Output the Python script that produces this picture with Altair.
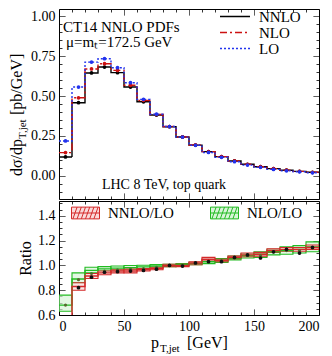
import altair as alt
import pandas as pd

# ---------------- data ----------------
bin_lo = [0, 10, 20, 30, 40, 50, 60, 70, 80, 90, 100, 110, 120, 130, 140, 150, 160, 170, 180, 190]
bin_w = 10

nnlo = [0.119, 0.458, 0.644, 0.681, 0.646, 0.556, 0.464, 0.381, 0.308, 0.244,
        0.193, 0.152, 0.121, 0.094, 0.073, 0.058, 0.046, 0.036, 0.029, 0.023]
nlo = [0.146, 0.489, 0.669, 0.702, 0.660, 0.567, 0.472, 0.384, 0.309, 0.244,
       0.194, 0.152, 0.121, 0.094, 0.073, 0.058, 0.046, 0.036, 0.029, 0.023]
lo = [0.219, 0.556, 0.712, 0.733, 0.677, 0.583, 0.479, 0.386, 0.309, 0.243,
      0.192, 0.147, 0.117, 0.089, 0.068, 0.054, 0.041, 0.032, 0.026, 0.020]
err = [0.004, 0.006, 0.007, 0.007, 0.006, 0.006, 0.005, 0.005, 0.004, 0.004,
       0.004, 0.003, 0.003, 0.003, 0.003, 0.002, 0.002, 0.002, 0.002, 0.002]

r_nnlo = [0.54, 0.83, 0.915, 0.94, 0.955, 0.955, 0.965, 0.975, 1.0, 1.0,
          1.02, 1.05, 1.04, 1.065, 1.085, 1.09, 1.12, 1.13, 1.13, 1.145]
r_nnlo_lo = [0.52, 0.80, 0.895, 0.925, 0.94, 0.94, 0.955, 0.965, 0.99, 0.99,
             1.005, 1.035, 1.03, 1.055, 1.07, 1.075, 1.105, 1.115, 1.115, 1.13]
r_nnlo_hi = [0.56, 0.86, 0.935, 0.955, 0.965, 0.97, 0.975, 0.985, 1.01, 1.01,
             1.03, 1.065, 1.05, 1.075, 1.10, 1.105, 1.135, 1.145, 1.145, 1.165]
r_nlo = [0.68, 0.89, 0.96, 0.972, 0.978, 0.982, 0.988, 0.995, 1.0, 1.005,
         1.015, 1.03, 1.04, 1.06, 1.08, 1.09, 1.11, 1.12, 1.13, 1.15]
r_nlo_lo = [0.63, 0.86, 0.94, 0.955, 0.962, 0.968, 0.975, 0.985, 0.99, 0.995,
            1.005, 1.015, 1.025, 1.045, 1.06, 1.065, 1.085, 1.09, 1.10, 1.11]
r_nlo_hi = [0.76, 0.94, 0.985, 0.99, 0.995, 1.0, 1.002, 1.008, 1.01, 1.015,
            1.025, 1.045, 1.055, 1.075, 1.095, 1.11, 1.13, 1.15, 1.16, 1.19]
r_pts = [0.54, 0.82, 0.905, 0.945, 0.95, 0.955, 0.96, 0.97, 1.0, 0.995,
         1.02, 1.03, 1.03, 1.065, 1.085, 1.06, 1.11, 1.13, 1.10, 1.145]
r_pts_err = [0.01, 0.01, 0.01, 0.01, 0.01, 0.01, 0.008, 0.008, 0.008, 0.008,
             0.008, 0.008, 0.008, 0.008, 0.008, 0.01, 0.01, 0.012, 0.012, 0.012]
r_nlo_pts = [0.68, 0.885, 0.935, 0.955, 0.965, 0.97, 0.975, 0.985, 1.0, 1.0,
             1.02, 1.03, 1.04, 1.06, 1.08, 1.08, 1.11, 1.12, 1.12, 1.14]

series = ["NNLO", "NLO", "LO"]
series_vals = [nnlo, nlo, lo]
colors = ["#000000", "#cc1111", "#2233ee"]
dashes = [[1, 0], [7, 3, 2, 3], [2, 2]]

ratio_series = ["NNLO/LO", "NLO/LO"]
ratio_stroke = ["#d42a2a", "#22bb22"]
ratio_fill = ["#fadada", "#d8f5d8"]

x_ticks = [0, 10, 20, 30, 40, 50, 60, 70, 80, 90, 100, 110, 120, 130, 140, 150, 160, 170, 180, 190, 200]
y_top_ticks = [-0.1, -0.05, 0.0, 0.05, 0.1, 0.15, 0.2, 0.25, 0.3, 0.35, 0.4, 0.45, 0.5,
               0.55, 0.6, 0.65, 0.7, 0.75, 0.8, 0.85, 0.9, 0.95, 1.0]
y_bot_ticks = [0.6, 0.65, 0.7, 0.75, 0.8, 0.85, 0.9, 0.95, 1.0, 1.05, 1.1, 1.15, 1.2,
               1.25, 1.3, 1.35, 1.4, 1.45, 1.5]

FONT = "Liberation Serif"

# ---------------- frames ----------------
step_rows, pt_rows = [], []
for name, vals in zip(series, series_vals):
    for a, v, e in zip(bin_lo, vals, err):
        step_rows.append({"series": name, "x": a, "y": v})
        pt_rows.append({"series": name, "xc": a + bin_w / 2, "y": v, "ylo": v - e, "yhi": v + e})
    step_rows.append({"series": name, "x": bin_lo[-1] + bin_w, "y": vals[-1]})
step_df = pd.DataFrame(step_rows)
pt_df = pd.DataFrame(pt_rows)

box_rows, rline_rows = [], []
for name, c, l, h in [("NLO/LO", r_nlo, r_nlo_lo, r_nlo_hi), ("NNLO/LO", r_nnlo, r_nnlo_lo, r_nnlo_hi)]:
    for a, cv, lv, hv in zip(bin_lo, c, l, h):
        box_rows.append({"series": name, "x0": a, "x1": a + bin_w, "lo": lv, "hi": hv})
        rline_rows.append({"series": name, "x": a, "y": cv})
    rline_rows.append({"series": name, "x": bin_lo[-1] + bin_w, "y": c[-1]})
box_df = pd.DataFrame(box_rows)
rline_df = pd.DataFrame(rline_rows)
rpt_df = pd.DataFrame({"xc": [a + bin_w / 2 for a in bin_lo], "y": r_pts,
                       "ylo": [v - e for v, e in zip(r_pts, r_pts_err)],
                       "yhi": [v + e for v, e in zip(r_pts, r_pts_err)],
                       "yn": r_nlo_pts})

# ---------------- scales / axes ----------------
W = 260
xs = alt.Scale(domain=[0, 200], nice=False, zero=False)
ys_top = alt.Scale(domain=[-0.144, 1.044], nice=False, zero=False)
ys_bot = alt.Scale(domain=[0.6, 1.52], nice=False, zero=False)

X_MAJOR = "datum.value % 50 === 0"
YT_MAJOR = "abs(datum.value*4 - round(datum.value*4)) < 0.001"
YB_MAJOR = "abs(datum.value*5 - round(datum.value*5)) < 0.001"


def dash(test):
    return {"condition": {"test": test, "value": [1, 0]}, "value": [3, 20]}


def lab(test):
    return f"({test}) ? datum.label : ''"


def mirror(data, xf, yf, yscale, ytest, yvals):
    return alt.Chart(data).mark_point(opacity=0).encode(
        x=alt.X(xf, scale=xs, axis=alt.Axis(orient="top", labels=False, title=None,
                                            values=x_ticks, tickDash=dash(X_MAJOR))),
        y=alt.Y(yf, scale=yscale, axis=alt.Axis(orient="right", labels=False, title=None,
                                                values=yvals, tickDash=dash(ytest))),
    )


col_scale = alt.Scale(domain=series, range=colors)
dash_scale = alt.Scale(domain=series, range=dashes)

top_legend = alt.Legend(title=None, orient="none", legendX=160, legendY=0,
                        symbolType="stroke", symbolSize=900, symbolStrokeWidth=1.6,
                        clipHeight=15, rowPadding=0,
                        labelFont=FONT, labelFontSize=15, labelOffset=8, labelColor="black")

x_top = alt.X("x:Q", scale=xs,
              axis=alt.Axis(labels=False, title=None, values=x_ticks, tickDash=dash(X_MAJOR)))
y_top = alt.Y("y:Q", scale=ys_top,
              axis=alt.Axis(values=y_top_ticks, format=".2f", labelExpr=lab(YT_MAJOR),
                            tickDash=dash(YT_MAJOR), title=None))

steps = alt.Chart(step_df).mark_line(interpolate="step-after", strokeWidth=1.4).encode(
    x=x_top, y=y_top,
    color=alt.Color("series:N", scale=col_scale, legend=top_legend),
    strokeDash=alt.StrokeDash("series:N", scale=dash_scale, legend=top_legend),
)
bars = alt.Chart(pt_df).mark_rule(strokeWidth=1.2).encode(
    x=alt.X("xc:Q", scale=xs, axis=None), y=alt.Y("ylo:Q", scale=ys_top, axis=None), y2="yhi:Q",
    color=alt.Color("series:N", scale=col_scale, legend=None),
)
pts = alt.Chart(pt_df).mark_point(filled=True, size=14, opacity=1).encode(
    x=alt.X("xc:Q", scale=xs, axis=None), y=alt.Y("y:Q", scale=ys_top, axis=None),
    color=alt.Color("series:N", scale=col_scale, legend=None),
)


def label(txt, x, y, size=15, align="left", angle=0, style="normal"):
    return alt.Chart(pd.DataFrame({"t": [txt]})).mark_text(
        font=FONT, fontSize=size, align=align, baseline="alphabetic", color="black",
        angle=angle, fontStyle=style
    ).encode(text="t:N", x=alt.value(x), y=alt.value(y))


top = alt.layer(
    steps, bars, pts,
    mirror(pt_df, "xc:Q", "y:Q", ys_top, YT_MAJOR, y_top_ticks),
    label("CT14 NNLO PDFs", 4, 23),
    label("μ=mₜ=172.5 GeV", 7, 38),
    label("LHC 8 TeV, top quark", 105, 180, size=14, align="center"),
    # y-axis title with subscript
    label("dσ/dp", -37, 167, size=16, angle=270),
    label("T,jet", -33, 130, size=11, angle=270),
    label("[pb/GeV]", -37, 106, size=16, angle=270),
).resolve_axis(x="independent", y="independent").properties(width=W, height=190)

# ---------------- ratio panel ----------------
hatch = ("M-1,-0.42L1,-0.42L1,0.42L-1,0.42Z "
         "M-0.9,0.42L-0.6,-0.42 M-0.6,0.42L-0.3,-0.42 M-0.3,0.42L0,-0.42 "
         "M0,0.42L0.3,-0.42 M0.3,0.42L0.6,-0.42 M0.6,0.42L0.9,-0.42 M-1,0L1,0")
bot_legend = alt.Legend(title=None, orient="none", legendX=12, legendY=196, direction="horizontal",
                        symbolType=hatch, symbolSize=784, symbolStrokeWidth=1.0, clipHeight=16,
                        labelFont=FONT, labelFontSize=15, labelOffset=8, columnPadding=36,
                        labelColor="black")
rs_stroke = alt.Scale(domain=ratio_series, range=ratio_stroke)
rs_fill = alt.Scale(domain=ratio_series, range=ratio_fill)

boxes = alt.Chart(box_df).mark_rect(clip=True, strokeWidth=1.1, fillOpacity=0.7).encode(
    x=alt.X("x0:Q", scale=xs,
            axis=alt.Axis(values=x_ticks, labelExpr=lab(X_MAJOR), tickDash=dash(X_MAJOR), title=None)),
    x2="x1:Q",
    y=alt.Y("lo:Q", scale=ys_bot,
            axis=alt.Axis(values=y_bot_ticks, format=".1f", labelExpr=lab(YB_MAJOR),
                          tickDash=dash(YB_MAJOR), title="Ratio", titlePadding=4)),
    y2="hi:Q",
    stroke=alt.Stroke("series:N", scale=rs_stroke, legend=bot_legend),
    fill=alt.Fill("series:N", scale=rs_fill, legend=bot_legend),
)
rlines = alt.Chart(rline_df).mark_line(interpolate="step-after", clip=True, strokeWidth=1.4).encode(
    x=alt.X("x:Q", scale=xs, axis=None), y=alt.Y("y:Q", scale=ys_bot, axis=None),
    stroke=alt.Stroke("series:N", scale=rs_stroke, legend=None),
)
rbars = alt.Chart(rpt_df).mark_rule(clip=True, color="#222222", strokeWidth=1.2).encode(
    x=alt.X("xc:Q", scale=xs, axis=None), y=alt.Y("ylo:Q", scale=ys_bot, axis=None), y2="yhi:Q",
)
rpts = alt.Chart(rpt_df).mark_point(clip=True, filled=True, size=14, color="#111111", opacity=1).encode(
    x=alt.X("xc:Q", scale=xs, axis=None), y=alt.Y("y:Q", scale=ys_bot, axis=None),
)
rpts2 = alt.Chart(rpt_df).mark_point(clip=True, filled=True, size=10, color="#556b2f", opacity=1).encode(
    x=alt.X("xc:Q", scale=xs, axis=None), y=alt.Y("yn:Q", scale=ys_bot, axis=None),
)

bottom = alt.layer(
    boxes, rlines, rbars, rpts2, rpts,
    mirror(rpt_df, "xc:Q", "y:Q", ys_bot, YB_MAJOR, y_bot_ticks),
    label("p", 92, 147, size=16),
    label("T,jet", 101, 151, size=11),
    label("[GeV]", 128, 147, size=16),
).resolve_axis(x="independent", y="independent").properties(width=W, height=114)

chart = alt.vconcat(top, bottom, spacing=0).properties(padding=0).configure_view(
    stroke="black", strokeWidth=1
).configure_axis(
    domain=False, grid=False,
    tickSize=alt.ExprRef(expr="-6"), tickColor="black", tickWidth=0.8,
    labelFont=FONT, labelFontSize=14, labelColor="black", labelPadding=10,
    titleFont=FONT, titleFontSize=16, titleFontWeight="normal", titleColor="black",
).configure_concat(spacing=0)

chart.save("out.html", embed_options={"renderer": "svg", "actions": False})
